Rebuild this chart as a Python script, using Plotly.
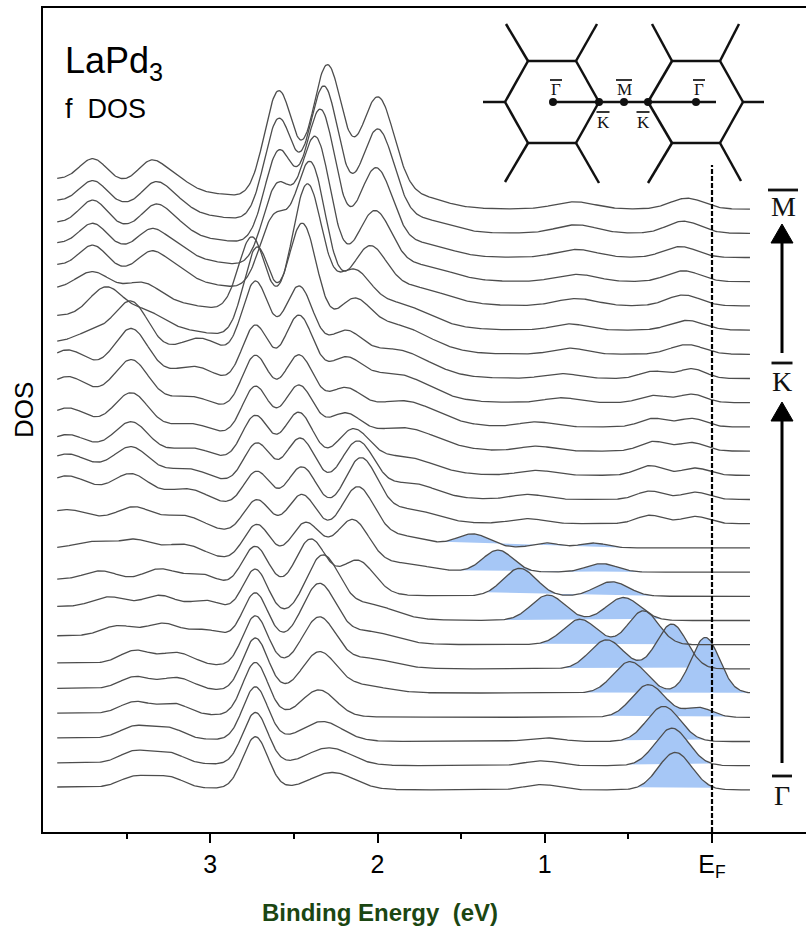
import numpy as np
import plotly.graph_objects as go

# ---------------- data ----------------
E_START, E_END = 3.915, -0.227
X_TICKS = [3, 2, 1, 0]
X_TICK_TEXT = ["3", "2", "1", "E<sub>F</sub>"]
X_MINOR = [3.5, 2.5, 1.5, 0.5]

# broad background level (at the high-binding-energy end) of each curve, Γ (0) -> M (24)
BACKGROUND = [0.12, 0.12, 0.15, 0.17, 0.2, 0.25, 0.37, 0.58, 0.7, 1.0,
              1.3, 1.5, 1.4, 1.2, 1.2, 1.4, 1.5, 1.5, 1.6, 1.7,
              1.7, 1.6, 1.45, 1.35, 1.25]

# DOS peaks of each curve: (centre eV, height, width eV)
CURVE_PEAKS = [
    [(3.45, .45, .09), (3.25, .45, .09), (2.73, 2.15, .075), (2.27, .7, .13), (1.02, .22, .1), (0.22, 1.55, .1)],
    [(3.45, .5, .09), (3.25, .45, .09), (2.73, 2.15, .075), (2.29, .72, .13), (1.02, .2, .1), (0.24, 1.55, .1)],
    [(3.45, .5, .09), (3.25, .45, .09), (2.73, 2.2, .075), (2.33, .8, .12), (1.0, .15, .1), (0.29, 1.45, .1)],
    [(3.45, .5, .09), (3.22, .45, .09), (2.73, 2.2, .075), (2.35, 1.1, .1), (0.38, 1.35, .1), (0.08, .4, .08)],
    [(3.45, .5, .09), (3.2, .5, .1), (2.73, 2.2, .075), (2.35, 1.6, .1), (2.1, .3, .15), (0.49, 1.3, .1), (0.04, 2.3, .085)],
    [(3.45, .55, .09), (3.2, .5, .1), (2.73, 2.1, .075), (2.35, 2.05, .1), (2.05, .4, .15), (0.63, 1.2, .1), (0.24, 1.85, .09)],
    [(3.55, .45, .1), (3.28, .6, .1), (3.02, .4, .1), (2.73, 2.0, .075), (2.35, 2.4, .1), (2.05, .5, .15), (0.79, 1.05, .1), (0.41, 1.4, .09)],
    [(3.6, .45, .1), (3.3, .6, .1), (3.02, .5, .1), (2.73, 1.9, .075), (2.33, 2.5, .1), (2.05, .6, .15), (0.98, 1.05, .1), (0.53, .95, .1)],
    [(3.65, .4, .1), (3.3, .6, .1), (3.05, .5, .1), (2.73, 1.8, .08), (2.4, 2.2, .09), (2.12, 1.4, .1), (1.15, 1.15, .1), (0.60, .6, .1)],
    [(3.7, .3, .1), (3.45, .5, .1), (3.15, .5, .12), (2.72, 1.6, .08), (2.43, 1.8, .09), (2.15, 2.0, .1), (1.85, .3, .15), (1.28, .9, .09), (0.66, .35, .09)],
    [(3.85, .3, .1), (3.45, .6, .1), (3.15, .5, .12), (2.72, 1.5, .08), (2.45, 1.9, .09), (2.12, 2.3, .1), (1.85, .4, .15), (1.43, .55, .1), (0.99, .2, .08), (0.71, .2, .08)],
    [(3.85, .5, .1), (3.47, .8, .1), (3.12, .5, .12), (2.72, 1.6, .08), (2.45, 2.0, .09), (2.1, 2.5, .1), (1.8, .5, .15), (1.1, .2, .1), (0.37, .35, .08), (0.1, .3, .08)],
    [(3.85, .5, .1), (3.47, 1.0, .1), (3.12, .4, .12), (2.72, 1.8, .08), (2.46, 2.2, .09), (2.12, 2.2, .1), (1.8, .6, .15), (1.1, .2, .1), (0.37, .35, .08), (0.1, .3, .08)],
    [(3.85, .5, .1), (3.47, 1.2, .1), (3.1, .4, .12), (2.73, 2.0, .08), (2.47, 2.3, .09), (2.15, 1.6, .1), (1.85, .7, .18), (1.05, .2, .1), (0.37, .4, .08), (0.1, .3, .08)],
    [(3.85, .6, .1), (3.47, 1.4, .1), (3.1, .4, .12), (2.73, 2.2, .08), (2.47, 2.4, .09), (2.2, 1.2, .1), (1.85, .9, .2), (1.05, .2, .1), (0.35, .4, .08), (0.12, .35, .08)],
    [(3.85, .7, .1), (3.47, 1.6, .1), (3.1, .4, .12), (2.73, 2.4, .08), (2.47, 2.6, .09), (2.2, 1.2, .1), (1.85, 1.0, .2), (1.05, .2, .1), (0.35, .35, .08), (0.12, .35, .08)],
    [(3.85, .7, .1), (3.47, 1.8, .1), (3.08, .6, .12), (2.73, 2.6, .08), (2.47, 3.2, .09), (2.2, 1.3, .1), (1.9, 1.1, .2), (0.9, .2, .1), (0.35, .3, .08), (0.12, .35, .08)],
    [(3.7, .5, .1), (3.47, 1.9, .1), (3.05, .8, .12), (2.73, 3.4, .08), (2.47, 3.4, .09), (2.2, 1.4, .1), (1.9, 1.1, .2), (0.9, .2, .1), (0.35, .3, .08), (0.12, .4, .08)],
    [(3.62, 1.3, .1), (3.38, .5, .1), (2.72, 3.8, .08), (2.45, 5.0, .09), (2.15, 1.6, .1), (1.9, 1.1, .2), (0.85, .25, .1), (0.15, .4, .1)],
    [(3.7, .8, .1), (3.4, .6, .1), (2.75, 3.2, .08), (2.42, 5.6, .09), (2.15, 1.8, .1), (1.9, 1.0, .2), (0.85, .25, .1), (0.15, .4, .1)],
    [(3.70, .9, .08), (3.35, .9, .08), (3.2, .4, .08), (2.62, 3.0, .085), (2.40, 5.5, .09), (2.05, 2.0, .1), (1.8, .7, .2), (0.81, .3, .12), (0.17, .45, .1)],
    [(3.70, .9, .08), (3.35, .9, .08), (3.2, .4, .08), (2.60, 3.4, .085), (2.37, 5.6, .09), (2.02, 2.6, .1), (1.75, .6, .18), (0.81, .3, .12), (0.17, .45, .1)],
    [(3.70, 1.0, .08), (3.33, 1.0, .08), (3.2, .4, .08), (2.59, 3.9, .085), (2.34, 5.8, .09), (2.01, 3.5, .1), (1.72, .5, .15), (0.81, .33, .12), (0.19, .45, .1)],
    [(3.70, .9, .08), (3.33, 1.0, .08), (3.2, .4, .08), (2.59, 4.3, .085), (2.32, 5.8, .09), (2.00, 4.1, .1), (1.72, .5, .15), (0.81, .35, .12), (0.17, .5, .1)],
    [(3.70, .9, .08), (3.35, 1.0, .08), (3.2, .4, .08), (2.59, 4.5, .085), (2.30, 5.7, .09), (2.00, 4.4, .1), (1.75, .45, .15), (0.82, .3, .12), (0.15, .45, .1)],
]

# shaded (f-band) energy window of the lower curves: (high E, low E)
FILL_WINDOWS = [(0.45, -0.02), (0.50, 0.0), (0.55, 0.05), (0.63, -0.1), (0.77, -0.227),
                (0.90, 0.0), (1.05, 0.15), (1.28, 0.30), (1.35, 0.35), (1.55, 0.35), (1.61, 0.51)]

# ---------------- build ----------------
E = np.linspace(E_START, E_END, 700)


def curve(i, e):
    y = i + BACKGROUND[i] * np.exp(-(e - 4.0) ** 2 / (2 * 0.9 ** 2))
    for c, h, s in CURVE_PEAKS[i]:
        y = y + h * np.exp(-(e - c) ** 2 / (2 * s ** 2))
    return y


fig = go.Figure()
FILL = "rgb(166,199,246)"
LINE = "#4d4d4d"

for i, (hi, lo) in enumerate(FILL_WINDOWS):
    ef = np.linspace(hi, lo, 200)
    yf = curve(i, ef)
    fig.add_trace(go.Scatter(x=ef, y=yf, mode="lines", fill="toself", fillcolor=FILL,
                             line=dict(width=0), hoverinfo="skip", showlegend=False))

for i in range(len(CURVE_PEAKS)):
    fig.add_trace(go.Scatter(x=E, y=curve(i, E), mode="lines",
                             line=dict(color=LINE, width=1.3), showlegend=False))

L_PX, R_PX, T_PX, B_PX = 43, 806, 8, 832


def px(x):
    return (x - L_PX) / (R_PX - L_PX)


def py(y):
    return (B_PX - y) / (B_PX - T_PX)


shapes = []
annotations = []


def seg(x0, y0, x1, y1, w=2.5, color="#111"):
    shapes.append(dict(type="line", xref="paper", yref="paper", x0=px(x0), y0=py(y0),
                       x1=px(x1), y1=py(y1), line=dict(color=color, width=w)))


def text(txt, x, y, size, font="Liberation Sans", anchor="center", color="#111", angle=0):
    annotations.append(dict(text=txt, x=px(x), y=py(y), xref="paper", yref="paper",
                            showarrow=False, font=dict(size=size, family=font, color=color),
                            xanchor=anchor, yanchor="middle", textangle=angle))


def label(txt, x, y, size, bar_w, bar_dy):
    text(txt, x, y, size, font="Liberation Serif")
    seg(x - bar_w / 2, y - bar_dy, x + bar_w / 2, y - bar_dy, w=max(1.2, size / 10))


# Fermi level dashed line
shapes.append(dict(type="line", xref="x", yref="paper", x0=0, x1=0, y0=0, y1=py(165),
                   line=dict(color="black", width=2.2, dash="5px,2px")))

# path labels and arrows on the right
label("M", 783, 207, 28, 30, 17)
label("K", 782, 381, 28, 21, 18)
label("Γ", 782, 795, 28, 20, 19)
seg(782, 353, 782, 238, w=3, color="black")
seg(782, 763, 782, 416, w=3, color="black")
for tip in (224, 402):
    shapes.append(dict(type="path", xref="paper", yref="paper",
                       path=f"M {px(782)},{py(tip)} L {px(771)},{py(tip + 19)} L {px(793)},{py(tip + 19)} Z",
                       fillcolor="black", line=dict(color="black", width=1)))

# Brillouin-zone inset
hexes = [[(528, 61), (576, 61), (599, 102), (576, 143), (528, 143), (505, 102)],
         [(672, 61), (720, 61), (743, 102), (720, 143), (672, 143), (648, 102)]]
for hx in hexes:
    for k in range(6):
        a, b = hx[k], hx[(k + 1) % 6]
        seg(a[0], a[1], b[0], b[1])
spokes = [((528, 61), (506, 24)), ((576, 61), (597, 24)), ((505, 102), (483, 102)),
          ((528, 143), (505, 182)), ((576, 143), (599, 183)),
          ((672, 61), (652, 24)), ((720, 61), (739, 24)), ((743, 102), (764, 102)),
          ((672, 143), (648, 183)), ((720, 143), (741, 181))]
for a, b in spokes:
    seg(a[0], a[1], b[0], b[1])
seg(553, 102, 716, 102)
for xd in (553, 599, 624, 648, 696):
    shapes.append(dict(type="circle", xref="paper", yref="paper", x0=px(xd - 4), x1=px(xd + 4),
                       y0=py(106), y1=py(98), fillcolor="#111", line=dict(width=0)))
label("Γ", 556, 90, 17, 12, 10)
label("M", 624, 90, 17, 16, 10)
label("Γ", 699, 90, 17, 12, 10)
label("K", 603, 122, 17, 13, 10)
label("K", 643, 122, 17, 13, 10)

# title texts
text("LaPd<sub>3</sub>", 63, 63, 36, anchor="left", color="black")
text("f  DOS", 63, 109, 27, anchor="left", color="black")
text("DOS", 24, 410, 26, anchor="center", color="black", angle=-90)
text("<b>Binding Energy  (eV)</b>", 380, 912, 24, anchor="center", color="#1b4612")

fig.update_layout(
    width=806, height=931,
    margin=dict(l=L_PX, r=806 - R_PX, t=T_PX, b=931 - B_PX),
    plot_bgcolor="white", paper_bgcolor="white",
    font=dict(family="Liberation Sans, Arial", color="black"),
    shapes=shapes, annotations=annotations,
    xaxis=dict(range=[4.0, -0.562], tickvals=X_TICKS, ticktext=X_TICK_TEXT,
               ticks="outside", ticklen=9, tickwidth=2, tickcolor="black",
               minor=dict(tickvals=X_MINOR, ticks="outside", ticklen=5, tickwidth=2, tickcolor="black"),
               showline=True, linewidth=2, linecolor="black", mirror=True,
               showgrid=False, zeroline=False,
               tickfont=dict(size=25, color="black", family="Liberation Sans")),
    yaxis=dict(range=[-1.74, 32.31], showticklabels=False, ticks="", showgrid=False,
               zeroline=False, showline=True, linewidth=2, linecolor="black"),
)

fig.write_html("out.html")
